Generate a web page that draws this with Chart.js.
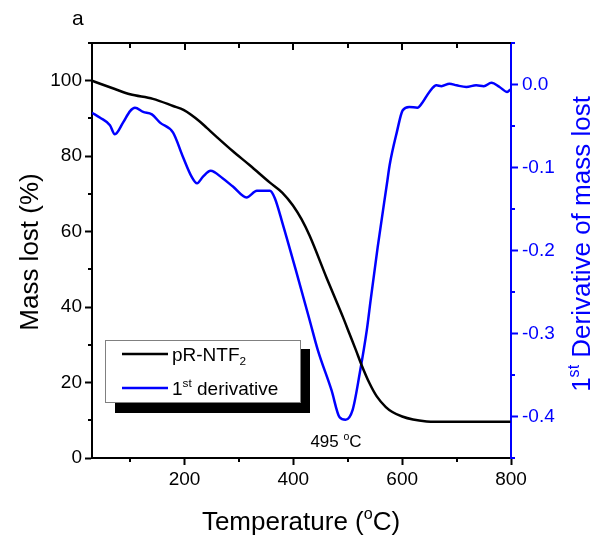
<!DOCTYPE html>
<html>
<head>
<meta charset="utf-8">
<script src="https://cdn.jsdelivr.net/npm/chart.js@4.4.1/dist/chart.umd.min.js"></script>
<style>
  html, body { margin: 0; padding: 0; background: #ffffff; }
  #wrap { width: 594px; height: 539px; position: relative; }
</style>
</head>
<body>
<div id="wrap"><canvas id="c" width="594" height="539"></canvas></div>
<script>
// ---------- DATA ----------
const seriesNames = ['pR-NTF2', '1st derivative'];

const massTemperature = [30, 45, 72, 100, 142, 179, 199, 228, 241, 260, 289, 320, 357, 380, 399, 415, 430, 461, 476, 491, 503, 515, 525, 540, 553, 570, 582, 600, 620, 645, 660, 700, 750, 799];
const massPercent     = [100, 99.2, 97.8, 96.4, 95.2, 93.3, 92.2, 89.2, 87.5, 85.0, 81.3, 77.6, 73.0, 70.3, 67.0, 63.3, 58.9, 47.8, 42.6, 37.4, 33.0, 28.6, 24.8, 19.8, 16.4, 13.5, 12.2, 11.0, 10.2, 9.7, 9.6, 9.6, 9.6, 9.6];

const derivTemperature = [30, 45, 63, 72, 87, 100, 109, 124, 140, 155, 179, 197, 213, 223, 234, 248, 270, 289, 314, 333, 357, 366, 380, 406, 430, 445, 470, 485, 496, 509, 522, 535, 542, 555, 573, 577, 590, 601, 613, 628, 637, 650, 663, 672, 687, 700, 718, 736, 750, 764, 779, 793, 799];
const derivativeValue  = [-0.034, -0.040, -0.049, -0.060, -0.046, -0.032, -0.028, -0.033, -0.036, -0.046, -0.058, -0.087, -0.111, -0.119, -0.111, -0.104, -0.113, -0.123, -0.136, -0.128, -0.128, -0.137, -0.167, -0.227, -0.284, -0.320, -0.368, -0.401, -0.404, -0.392, -0.348, -0.296, -0.260, -0.196, -0.115, -0.097, -0.058, -0.031, -0.027, -0.028, -0.022, -0.009, -0.001, -0.002, 0.001, -0.001, -0.003, -0.001, -0.002, 0.002, -0.003, -0.009, -0.006];

const xTickValues = [100, 200, 300, 400, 500, 600, 700, 800];
const xTickLabels = ['', '200', '', '400', '', '600', '', '800'];
const yTickValues = [0, 10, 20, 30, 40, 50, 60, 70, 80, 90, 100, 110];
const yTickLabels = ['0', '', '20', '', '40', '', '60', '', '80', '', '100', ''];
const y1TickValues = [5, 0, -5, -10, -15, -20, -25, -30, -35, -40, -45]; // hundredths
const y1TickLabels = ['', '0.0', '', '-0.1', '', '-0.2', '', '-0.3', '', '-0.4', ''];

const peakLabel = '495';

// ---------- STYLE ----------
const FONT = "'Liberation Sans', Arial, Helvetica, sans-serif";
const BLUE = '#0000ff';
const BLACK = '#000000';
Chart.defaults.font.family = FONT;

function richText(ctx, x, y, segs, size, align, color) {
  ctx.fillStyle = color;
  ctx.textBaseline = 'alphabetic';
  ctx.textAlign = 'left';
  let total = 0;
  const parts = segs.map(s => {
    const fs = (s.sup || s.sub) ? size * 0.62 : size;
    ctx.font = fs + 'px ' + FONT;
    const w = ctx.measureText(s.t).width;
    total += w;
    return { s, fs, w };
  });
  let cx = align === 'center' ? x - total / 2 : x;
  parts.forEach(p => {
    ctx.font = p.fs + 'px ' + FONT;
    const dy = p.s.sup ? -size * 0.42 : (p.s.sub ? size * 0.22 : 0);
    ctx.fillText(p.s.t, cx, y + dy);
    cx += p.w;
  });
}

const decorPlugin = {
  id: 'decor',
  afterDraw(chart) {
    const ctx = chart.ctx;
    const ca = chart.chartArea;
    const xs = chart.scales.x, ys = chart.scales.y, y1 = chart.scales.y1;
    ctx.save();
    // top axis line and inward ticks
    ctx.strokeStyle = BLACK;
    ctx.lineWidth = 2;
    ctx.beginPath();
    ctx.moveTo(ca.left - 1, ca.top);
    ctx.lineTo(ca.right, ca.top);
    ctx.stroke();
    xTickValues.forEach((v, i) => {
      if (v >= 800) return;
      const px = Math.round(xs.getPixelForValue(v));
      const len = xTickLabels[i] ? 7 : 5;
      ctx.beginPath();
      ctx.moveTo(px, ca.top);
      ctx.lineTo(px, ca.top + len);
      ctx.stroke();
    });
    // minor ticks bottom
    xTickValues.forEach((v, i) => {
      if (xTickLabels[i]) return;
      const px = Math.round(xs.getPixelForValue(v));
      ctx.beginPath();
      ctx.moveTo(px, ca.bottom);
      ctx.lineTo(px, ca.bottom + 4);
      ctx.stroke();
    });
    // minor ticks left
    yTickValues.forEach((v, i) => {
      if (yTickLabels[i]) return;
      const py = Math.round(ys.getPixelForValue(v));
      ctx.beginPath();
      ctx.moveTo(ca.left, py);
      ctx.lineTo(ca.left - 4, py);
      ctx.stroke();
    });
    // minor ticks right
    ctx.strokeStyle = BLUE;
    y1TickValues.forEach((v, i) => {
      if (y1TickLabels[i]) return;
      const py = Math.round(y1.getPixelForValue(v / 100));
      ctx.beginPath();
      ctx.moveTo(ca.right, py);
      ctx.lineTo(ca.right + 4, py);
      ctx.stroke();
    });

    // axis titles
    richText(ctx, 301, 530, [{t: 'Temperature ('}, {t: 'o', sup: true}, {t: 'C)'}], 26, 'center', BLACK);
    ctx.save();
    ctx.translate(38, 252);
    ctx.rotate(-Math.PI / 2);
    richText(ctx, 0, 0, [{t: 'Mass lost (%)'}], 26, 'center', BLACK);
    ctx.restore();
    ctx.save();
    ctx.translate(590, 244);
    ctx.rotate(-Math.PI / 2);
    richText(ctx, 0, 0, [{t: '1'}, {t: 'st', sup: true}, {t: ' Derivative of mass lost'}], 26, 'center', BLUE);
    ctx.restore();

    // panel label
    richText(ctx, 72, 25, [{t: 'a'}], 21, 'left', BLACK);

    // peak annotation
    richText(ctx, 336, 447, [{t: peakLabel + ' '}, {t: 'o', sup: true}, {t: 'C'}], 17, 'center', BLACK);

    // legend with shadow
    ctx.fillStyle = BLACK;
    ctx.fillRect(115, 349, 195, 64);
    ctx.fillStyle = '#ffffff';
    ctx.fillRect(105, 340, 195, 62);
    ctx.strokeStyle = '#808080';
    ctx.lineWidth = 1;
    ctx.strokeRect(105.5, 340.5, 195, 62);
    const ds = chart.data.datasets;
    const rows = [
      { y: 354, color: ds[0].borderColor, segs: [{t: 'pR-NTF'}, {t: '2', sub: true}] },
      { y: 388, color: ds[1].borderColor, segs: [{t: '1'}, {t: 'st', sup: true}, {t: ' derivative'}] }
    ];
    rows.forEach(r => {
      ctx.strokeStyle = r.color;
      ctx.lineWidth = 2.5;
      ctx.beginPath();
      ctx.moveTo(122, r.y);
      ctx.lineTo(168, r.y);
      ctx.stroke();
      richText(ctx, 172, r.y + 7, r.segs, 19, 'left', BLACK);
    });
    ctx.restore();
  }
};

const massPoints = massTemperature.map((t, i) => ({ x: t, y: massPercent[i] }));
const derivPoints = derivTemperature.map((t, i) => ({ x: t, y: derivativeValue[i] }));

new Chart(document.getElementById('c'), {
  type: 'line',
  data: {
    datasets: [
      { label: seriesNames[0], data: massPoints, yAxisID: 'y', borderColor: BLACK, borderWidth: 2.5, pointRadius: 0, cubicInterpolationMode: 'monotone', fill: false },
      { label: seriesNames[1], data: derivPoints, yAxisID: 'y1', borderColor: BLUE, borderWidth: 2.5, pointRadius: 0, cubicInterpolationMode: 'monotone', fill: false }
    ]
  },
  options: {
    responsive: false,
    animation: false,
    devicePixelRatio: 1,
    layout: { padding: { top: 43, left: 0, right: 0, bottom: 0 } },
    plugins: { legend: { display: false }, tooltip: { enabled: false } },
    scales: {
      x: {
        type: 'linear', position: 'bottom', min: 30, max: 800,
        afterBuildTicks: s => { s.ticks = xTickValues.map(v => ({ value: v })); },
        afterFit: s => { s.height = 81; },
        ticks: { autoSkip: false, maxRotation: 0, padding: 3, color: BLACK, font: { size: 19 },
          callback: (v) => { const i = xTickValues.indexOf(v); return i >= 0 ? xTickLabels[i] : ''; } },
        grid: { drawOnChartArea: false, tickLength: 7, tickWidth: 2,
          tickColor: c => (c.tick && xTickLabels[xTickValues.indexOf(c.tick.value)]) ? BLACK : 'rgba(0,0,0,0)' },
        border: { color: BLACK, width: 2 }
      },
      y: {
        type: 'linear', position: 'left', min: 0, max: 110,
        afterBuildTicks: s => { s.ticks = yTickValues.map(v => ({ value: v })); },
        afterFit: s => { s.width = 92; },
        ticks: { autoSkip: false, padding: 3, color: BLACK, font: { size: 19 },
          callback: (v) => { const i = yTickValues.indexOf(v); return i >= 0 ? yTickLabels[i] : ''; } },
        grid: { drawOnChartArea: false, tickLength: 7, tickWidth: 2,
          tickColor: c => (c.tick && yTickLabels[yTickValues.indexOf(c.tick.value)]) ? BLACK : 'rgba(0,0,0,0)' },
        border: { color: BLACK, width: 2 }
      },
      y1: {
        type: 'linear', position: 'right', min: -0.45, max: 0.05,
        afterBuildTicks: s => { s.ticks = y1TickValues.map(v => ({ value: v / 100 })); },
        afterFit: s => { s.width = 83; },
        ticks: { autoSkip: false, padding: 4, color: BLUE, font: { size: 19 },
          callback: (v) => { const i = y1TickValues.indexOf(Math.round(v * 100)); return i >= 0 ? y1TickLabels[i] : ''; } },
        grid: { drawOnChartArea: false, tickLength: 7, tickWidth: 2,
          tickColor: c => (c.tick && y1TickLabels[y1TickValues.indexOf(Math.round(c.tick.value * 100))]) ? BLUE : 'rgba(0,0,0,0)' },
        border: { color: BLUE, width: 2 }
      }
    }
  },
  plugins: [decorPlugin]
});
</script>
</body>
</html>
